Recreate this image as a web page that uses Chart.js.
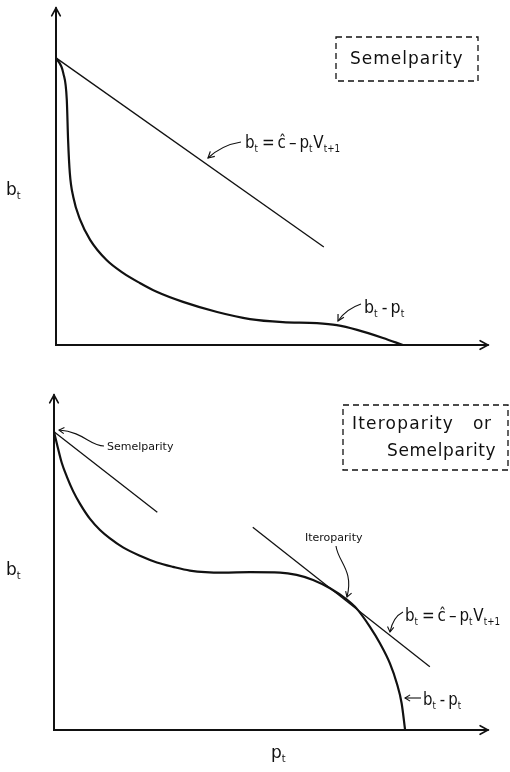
<!DOCTYPE html>
<html>
<head>
<meta charset="utf-8">
<script src="https://cdn.jsdelivr.net/npm/chart.js@4/dist/chart.umd.min.js"></script>
<style>
  html, body { margin: 0; padding: 0; background: #ffffff; }
  #wrap { position: relative; width: 510px; height: 772px; overflow: hidden; }
  canvas { position: absolute; left: 0; }
  #c1 { top: 0; }
  #c2 { top: 370px; }
</style>
</head>
<body>
<div id="wrap">
  <canvas id="c1" width="510" height="370"></canvas>
  <canvas id="c2" width="510" height="402"></canvas>
</div>
<script>
// ---------- Data (p_t on x, b_t on y, arbitrary units 0..100) ----------
// Top panel: Semelparity
const TOP_CURVE_P = [0, 1.7, 2.5, 2.8, 3.2, 4.0, 5.6, 7.9, 11.7, 15.5, 19.4, 23.3, 29.4, 37.3, 44.9, 52.5, 60.4, 65.0, 69.7, 75.7, 80.3];
const TOP_CURVE_B = [85.2, 80.6, 72.7, 60.8, 51.0, 43.9, 37.1, 31.2, 25.2, 21.4, 18.4, 15.8, 12.8, 9.8, 7.7, 6.8, 6.5, 5.9, 4.5, 2.1, 0];
const TOP_LINE_P = [0, 62.0];
const TOP_LINE_B = [85.2, 29.1];

// Bottom panel: Iteroparity or Semelparity
const BOT_CURVE_P = [0, 0.9, 1.8, 3.0, 4.4, 6.0, 8.3, 10.6, 12.9, 15.9, 19.8, 23.7, 27.4, 31.3, 38.9, 45.2, 52.1, 55.9, 59.7, 63.6, 67.4, 69.7, 72.8, 75.1, 77.4, 79.0, 80.1, 80.9];
const BOT_CURVE_B = [89.0, 84.2, 79.7, 75.5, 71.3, 67.5, 63.0, 59.7, 57.2, 54.5, 52.0, 50.0, 48.7, 47.6, 47.0, 47.1, 47.0, 46.3, 44.8, 42.3, 39.0, 36.3, 30.8, 25.9, 19.9, 13.9, 8.0, 0];
const SEMEL_TAN_P = [0, 23.8];
const SEMEL_TAN_B = [89.0, 65.0];
const ITERO_TAN_P = [45.8, 86.6];
const ITERO_TAN_B = [60.5, 18.9];

// Text labels
const TOP_BOX_TEXT = "Semelparity";
const BOT_BOX_LINES = ["Iteroparity", "or", "Semelparity"];
const SMALL_SEMEL = "Semelparity";
const SMALL_ITERO = "Iteroparity";

const pts = (xs, ys) => xs.map((x, i) => ({ x: x, y: ys[i] }));

const FONT = '"DejaVu Sans", "Liberation Sans", sans-serif';
const INK = '#111111';

// rich text: parts = [[text, isSub], ...]; sx = horizontal condense factor
function rich(ctx, x, y, parts, size, sx) {
  sx = sx || 1;
  ctx.save();
  ctx.translate(x, y);
  ctx.scale(sx, 1);
  let cx = 0;
  ctx.textBaseline = 'alphabetic';
  ctx.textAlign = 'left';
  for (const [t, sub] of parts) {
    const s = sub ? size * 0.58 : size;
    ctx.font = s + 'px ' + FONT;
    const dy = sub ? size * 0.22 : 0;
    ctx.fillText(t, cx, dy);
    cx += ctx.measureText(t).width + (sub ? 1 : 0);
  }
  ctx.restore();
}
function head(ctx, tx, ty, fx, fy, len, spread) {
  const a = Math.atan2(ty - fy, tx - fx);
  ctx.beginPath();
  ctx.moveTo(tx - len * Math.cos(a - spread), ty - len * Math.sin(a - spread));
  ctx.lineTo(tx, ty);
  ctx.lineTo(tx - len * Math.cos(a + spread), ty - len * Math.sin(a + spread));
  ctx.stroke();
}
function axes(ctx, area) {
  ctx.save();
  ctx.strokeStyle = INK;
  ctx.lineWidth = 2;
  ctx.lineCap = 'round';
  ctx.beginPath();
  ctx.moveTo(area.left, area.top);
  ctx.lineTo(area.left, area.bottom);
  ctx.lineTo(area.right, area.bottom);
  ctx.stroke();
  ctx.lineWidth = 1.6;
  head(ctx, area.left, area.top, area.left, area.top + 10, 9, 0.5);
  head(ctx, area.right, area.bottom, area.right - 10, area.bottom, 9, 0.5);
  ctx.restore();
}
function dashedBox(ctx, x0, y0, x1, y1) {
  ctx.save();
  ctx.strokeStyle = INK;
  ctx.lineWidth = 1.3;
  ctx.setLineDash([6, 4]);
  ctx.strokeRect(x0, y0, x1 - x0, y1 - y0);
  ctx.restore();
}
function spaced(ctx, text, x, y, size, spacing) {
  ctx.save();
  ctx.font = size + 'px ' + FONT;
  ctx.textAlign = 'left'; ctx.textBaseline = 'alphabetic';
  if ('letterSpacing' in ctx) ctx.letterSpacing = spacing + 'px';
  ctx.fillText(text, x, y);
  ctx.restore();
}
function formula(ctx, x, y, size) {
  rich(ctx, x, y, [['b', false], ['t', true], ['\u2009=\u2009ĉ\u2009–\u2009p', false], ['t', true], ['V', false], ['t+1', true]], size, 0.84);
}
function diffLabel(ctx, x, y, size) {
  rich(ctx, x, y, [['b', false], ['t', true], ['\u2009-\u2009p', false], ['t', true]], size, 0.88);
}

const topPlugin = {
  id: 'topDecor',
  afterDatasetsDraw(chart) {
    const ctx = chart.ctx, a = chart.chartArea;
    axes(ctx, a);
    ctx.save();
    ctx.fillStyle = INK; ctx.strokeStyle = INK;
    dashedBox(ctx, 336, 37, 478, 81);
    spaced(ctx, TOP_BOX_TEXT, 350, 64, 17, 1);
    rich(ctx, 6, 195, [['b', false], ['t', true]], 17);
    formula(ctx, 245, 148, 18);
    ctx.lineWidth = 1.2;
    ctx.beginPath(); ctx.moveTo(241, 142); ctx.quadraticCurveTo(222, 145, 208, 158); ctx.stroke();
    head(ctx, 208, 158, 218, 149, 7, 0.5);
    diffLabel(ctx, 364, 313, 18);
    ctx.beginPath(); ctx.moveTo(361, 304); ctx.quadraticCurveTo(346, 309, 338, 321); ctx.stroke();
    head(ctx, 338, 321, 343, 312, 7, 0.5);
    ctx.restore();
  }
};

const botPlugin = {
  id: 'botDecor',
  afterDatasetsDraw(chart) {
    const ctx = chart.ctx, a = chart.chartArea;
    axes(ctx, a);
    ctx.save();
    ctx.fillStyle = INK; ctx.strokeStyle = INK;
    dashedBox(ctx, 343, 35, 508, 100);
    spaced(ctx, BOT_BOX_LINES[0], 352, 59, 17, 1.2);
    spaced(ctx, BOT_BOX_LINES[1], 473, 59, 17, 0.6);
    spaced(ctx, BOT_BOX_LINES[2], 387, 86, 17, 0.6);
    rich(ctx, 6, 205, [['b', false], ['t', true]], 17);
    rich(ctx, 271, 388, [['p', false], ['t', true]], 17);
    ctx.font = '11px ' + FONT;
    ctx.textAlign = 'left'; ctx.textBaseline = 'alphabetic';
    ctx.fillText(SMALL_SEMEL, 107, 80);
    ctx.fillText(SMALL_ITERO, 305, 171);
    ctx.lineWidth = 1.1;
    ctx.beginPath(); ctx.moveTo(104, 76); ctx.bezierCurveTo(90, 76, 84, 62, 59, 60); ctx.stroke();
    head(ctx, 59, 60, 68, 61, 6, 0.55);
    ctx.beginPath(); ctx.moveTo(336, 176); ctx.bezierCurveTo(338, 192, 354, 200, 347, 227); ctx.stroke();
    head(ctx, 347, 227, 350, 218, 6, 0.55);
    formula(ctx, 405, 251, 18);
    ctx.beginPath(); ctx.moveTo(403, 242); ctx.quadraticCurveTo(393, 247, 390, 262); ctx.stroke();
    head(ctx, 390, 262, 391, 254, 6, 0.55);
    ctx.beginPath(); ctx.moveTo(421, 328); ctx.lineTo(405, 328); ctx.stroke();
    head(ctx, 405, 328, 412, 328, 6, 0.55);
    diffLabel(ctx, 423, 335, 17);
    ctx.restore();
  }
};

function makeChart(id, datasets, padding, plugin) {
  return new Chart(document.getElementById(id), {
    type: 'scatter',
    data: { datasets: datasets },
    options: {
      responsive: false,
      animation: false,
      devicePixelRatio: 1,
      layout: { padding: padding },
      plugins: { legend: { display: false }, tooltip: { enabled: false } },
      scales: {
        x: { type: 'linear', min: 0, max: 100, display: false },
        y: { type: 'linear', min: 0, max: 100, display: false }
      },
      elements: { point: { radius: 0 } }
    },
    plugins: [plugin]
  });
}

const curveStyle = { showLine: true, borderColor: INK, borderWidth: 2.2, cubicInterpolationMode: 'monotone', pointRadius: 0, clip: false, fill: false };
const lineStyle = { showLine: true, borderColor: INK, borderWidth: 1.3, tension: 0, pointRadius: 0, clip: false, fill: false };

makeChart('c1', [
  Object.assign({ label: 'b_t − p_t', data: pts(TOP_CURVE_P, TOP_CURVE_B) }, curveStyle),
  Object.assign({ label: 'b_t = ĉ − p_t V_t+1', data: pts(TOP_LINE_P, TOP_LINE_B) }, lineStyle)
], { left: 56, right: 22, top: 8, bottom: 25 }, topPlugin);

makeChart('c2', [
  Object.assign({ label: 'b_t − p_t', data: pts(BOT_CURVE_P, BOT_CURVE_B) }, curveStyle),
  Object.assign({ label: 'Semelparity tangent', data: pts(SEMEL_TAN_P, SEMEL_TAN_B) }, lineStyle),
  Object.assign({ label: 'Iteroparity tangent', data: pts(ITERO_TAN_P, ITERO_TAN_B) }, lineStyle)
], { left: 54, right: 22, top: 25, bottom: 42 }, botPlugin);
</script>
</body>
</html>
